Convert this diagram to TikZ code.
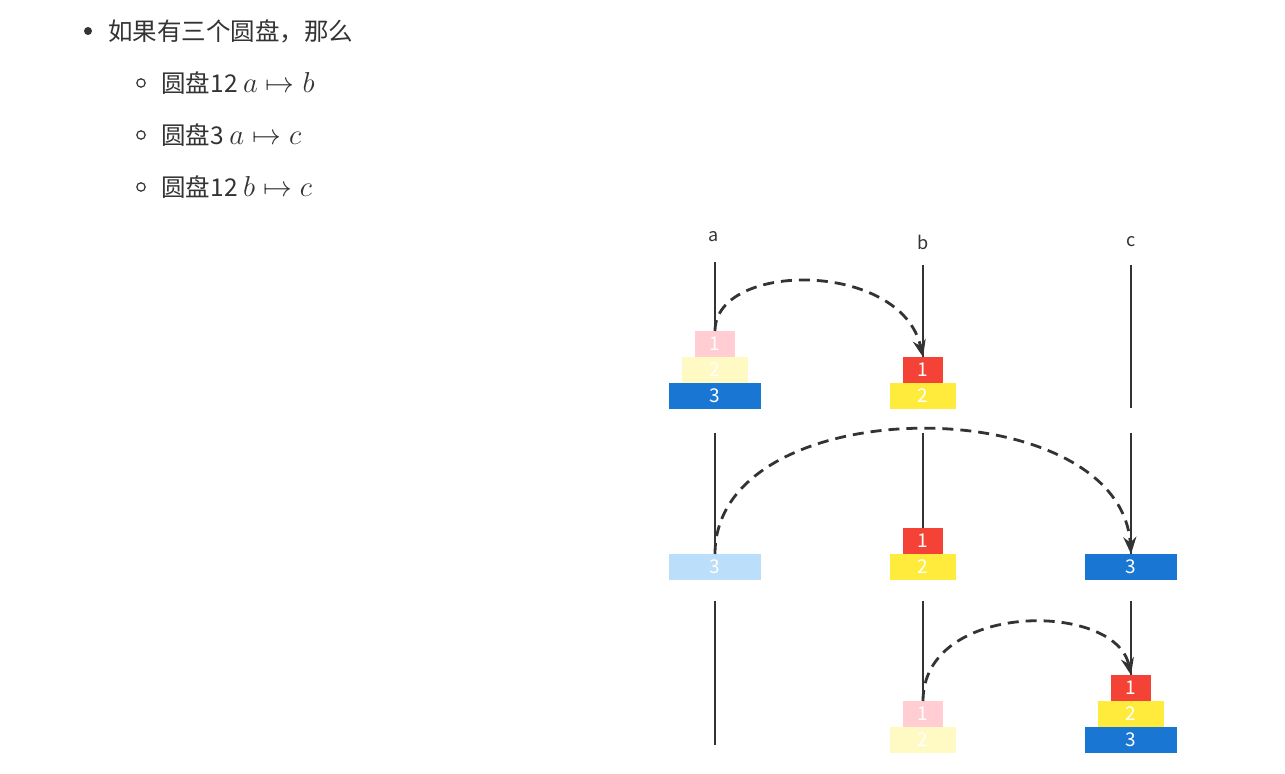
\documentclass[tikz,border=0pt]{standalone}
\usepackage{fontspec}
\usepackage{amsmath,amssymb}
\usepackage{tikz}
\usetikzlibrary{arrows.meta,positioning}
\newfontfamily\cjk{Noto Sans CJK SC}
\definecolor{ink}{HTML}{333333}
\definecolor{diskblue}{HTML}{1976D2}
\definecolor{diskred}{HTML}{F44336}
\definecolor{diskyellow}{HTML}{FFEB3B}
\definecolor{ghostpink}{HTML}{FFCDD2}
\definecolor{ghostyellow}{HTML}{FFF9C4}
\definecolor{ghostblue}{HTML}{BBDEFB}
\newcommand{\mathbig}[1]{{\fontsize{14}{16}\selectfont$#1$}}
\tikzset{
  disk/.style={minimum height=13pt,inner sep=0pt,outer sep=0pt,text=white,
               font=\cjk\fontsize{9.5}{10}\selectfont},
  diskone/.style={disk,minimum width=20pt},
  disktwo/.style={disk,minimum width=33pt},
  diskthree/.style={disk,minimum width=46pt},
  peg/.style={draw=ink,line width=1.25pt},
  move/.style={draw=ink,line width=1.4pt,dash pattern=on 5.5pt off 3.5pt,
               -{Stealth[length=8.5pt,width=6.5pt]}},
  peglabel/.style={inner sep=0pt,text=ink,font=\cjk\fontsize{9}{10}\selectfont},
  item/.style={anchor=west,inner sep=0pt,text=ink,
               font=\cjk\fontsize{12.25}{14}\selectfont},
  dot/.style={circle,fill=ink,inner sep=0pt,minimum size=4pt},
  ring/.style={circle,draw=ink,line width=0.6pt,inner sep=0pt,minimum size=4.2pt}
}
\begin{document}
\begin{tikzpicture}[x=0.5pt,y=-0.5pt]
    \useasboundingbox (0,0) rectangle (1285,774);

    % list
    \node[dot] (bul0) at (88,31) {};
    \node[item] (txt0) at (108,31) {如果有三个圆盘，那么};
    \node[ring] (bul1) at (141,83) {};
    \node[item] (txt1) at (161,83) {圆盘12 \mathbig{a\mapsto b}};
    \node[ring] (bul2) at (141,135) {};
    \node[item] (txt2) at (161,135) {圆盘3 \mathbig{a\mapsto c}};
    \node[ring] (bul3) at (141,187) {};
    \node[item] (txt3) at (161,187) {圆盘12 \mathbig{b\mapsto c}};

    % peg labels
    \node[peglabel] (la) at (714,237) {a};
    \node[peglabel] (lb) at (923,242) {b};
    \node[peglabel] (lc) at (1131,242) {c};

    % row 1
    \node[diskthree,fill=diskblue] (ra3) at (715,396) {3};
    \node[disktwo,fill=ghostyellow,above=0pt of ra3] (ra2) {2};
    \node[diskone,fill=ghostpink,above=0pt of ra2] (ra1) {1};
    \node[disktwo,fill=diskyellow] (rb2) at (923,396) {2};
    \node[diskone,fill=diskred,above=0pt of rb2] (rb1) {1};
    \coordinate (ta1) at (715,262);
    \coordinate (tb1) at (923,265);
    \coordinate (tc1) at (1131,265);
    \coordinate (bc1) at (1131,408);
    \draw[peg] (ta1) -- (ra1.north);
    \draw[peg] (tb1) -- (rb1.north);
    \draw[peg] (tc1) -- (bc1);
    \draw[move] (ra1.north) .. controls +(0,-70) and +(-22,-97) .. (rb1.north);

    % row 2
    \node[diskthree,fill=ghostblue] (sa3) at (715,567) {3};
    \node[disktwo,fill=diskyellow] (sb2) at (923,567) {2};
    \node[diskone,fill=diskred,above=0pt of sb2] (sb1) {1};
    \node[diskthree,fill=diskblue] (sc3) at (1131,567) {3};
    \coordinate (ta2) at (715,433);
    \coordinate (tb2) at (923,433);
    \coordinate (tc2) at (1131,433);
    \draw[peg] (ta2) -- (sa3.north);
    \draw[peg] (tb2) -- (sb1.north);
    \draw[peg] (tc2) -- (sc3.north);
    \draw[move] (sa3.north) .. controls +(0,-166) and +(-11,-166) .. (sc3.north);

    % row 3
    \node[disktwo,fill=ghostyellow] (ub2) at (923,740) {2};
    \node[diskone,fill=ghostpink,above=0pt of ub2] (ub1) {1};
    \node[diskthree,fill=diskblue] (uc3) at (1131,740) {3};
    \node[disktwo,fill=diskyellow,above=0pt of uc3] (uc2) {2};
    \node[diskone,fill=diskred,above=0pt of uc2] (uc1) {1};
    \coordinate (ta3) at (715,601);
    \coordinate (ba3) at (715,745);
    \coordinate (tb3) at (923,601);
    \coordinate (tc3) at (1131,601);
    \draw[peg] (ta3) -- (ba3);
    \draw[peg] (tb3) -- (ub1.north);
    \draw[peg] (tc3) -- (uc1.north);
    \draw[move] (ub1.north) .. controls +(0,-100) and +(-16,-74) .. (uc1.north);
\end{tikzpicture}
\end{document}
